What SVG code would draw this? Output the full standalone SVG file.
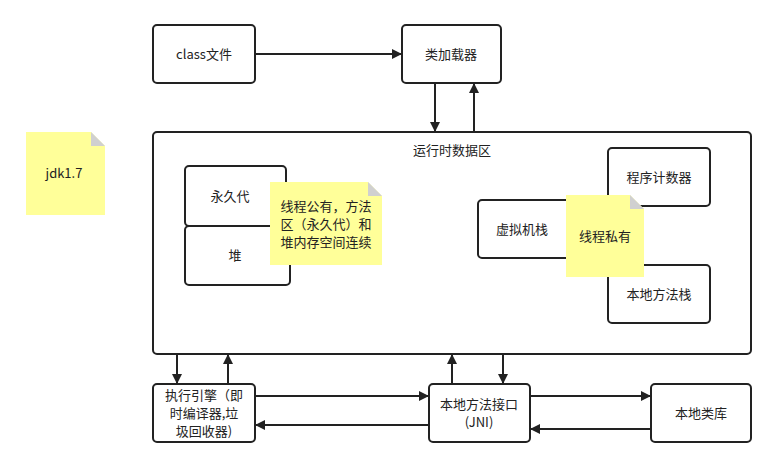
<svg xmlns="http://www.w3.org/2000/svg" width="776" height="468" viewBox="0 0 776 468">
<style>
.b{fill:#fff;stroke:#222;stroke-width:2}
.t{font-family:"Noto Sans CJK SC","Liberation Sans",sans-serif;font-size:13px;fill:#222;text-anchor:middle}
.n{fill:#ffff99;stroke:none}
.f{fill:#d0d0d0}
.c{stroke:#222;stroke-width:2;fill:none;marker-end:url(#a)}
</style>
<defs><marker id="a" markerWidth="10" markerHeight="10" refX="9" refY="5" orient="auto" markerUnits="userSpaceOnUse"><path d="M0,0 L10,5 L0,10 Z" fill="#222"/></marker></defs>
<rect width="776" height="468" fill="#fff"/>
<g id="runtime"><rect class="b" x="153" y="132" width="598" height="222" rx="4"/><text class="t" x="452" y="155">运行时数据区</text></g>
<g id="classfile"><rect class="b" x="153" y="25" width="102" height="58" rx="4"/><text class="t" x="204" y="59">class文件</text></g>
<g id="loader"><rect class="b" x="402" y="25" width="99" height="58" rx="4"/><text class="t" x="451" y="59">类加载器</text></g>
<g id="jdk"><path class="n" d="M26,132 H91 L105,146 V215 H26 Z"/><path class="f" d="M91,132 L105,146 H91 Z"/><text class="t" x="64" y="178">jdk1.7</text></g>
<g id="perm"><rect class="b" x="185" y="166" width="101" height="60" rx="4"/><text class="t" x="230" y="201">永久代</text></g>
<g id="heap"><rect class="b" x="185" y="226" width="105" height="59" rx="4"/><text class="t" x="235" y="260">堆</text></g>
<g id="note1"><path class="n" d="M270,182 H368 L382,196 V265 H270 Z"/><path class="f" d="M368,182 L382,196 H368 Z"/><text class="t" x="326" y="211">线程公有，方法</text><text class="t" x="326" y="229">区（永久代）和</text><text class="t" x="326" y="247">堆内存空间连续</text></g>
<g id="vmstack"><rect class="b" x="478" y="200" width="102" height="58" rx="4"/><text class="t" x="522" y="234">虚拟机栈</text></g>
<g id="pc"><rect class="b" x="608" y="148" width="102" height="58" rx="4"/><text class="t" x="659" y="182">程序计数器</text></g>
<g id="nstack"><rect class="b" x="608" y="265" width="102" height="58" rx="4"/><text class="t" x="659" y="299">本地方法栈</text></g>
<g id="note2"><path class="n" d="M566,195 H630 L644,209 V277 H566 Z"/><path class="f" d="M630,195 L644,209 H630 Z"/><text class="t" x="605" y="241">线程私有</text></g>
<g id="engine"><rect class="b" x="153" y="384" width="102" height="58" rx="4"/><text class="t" x="204" y="400">执行引擎（即</text><text class="t" x="204" y="418">时编译器,垃</text><text class="t" x="204" y="436">圾回收器)</text></g>
<g id="jni"><rect class="b" x="429" y="384" width="101" height="58" rx="4"/><text class="t" x="479" y="409">本地方法接口</text><text class="t" x="479" y="427">(JNI)</text></g>
<g id="lib"><rect class="b" x="651" y="384" width="100" height="58" rx="4"/><text class="t" x="701" y="418">本地类库</text></g>
<g id="connectors">
<path class="c" d="M255,54 H401"/>
<path class="c" d="M435,83 V131"/>
<path class="c" d="M474,132 V84"/>
<path class="c" d="M177,354 V383"/>
<path class="c" d="M228,384 V355"/>
<path class="c" d="M452,384 V355"/>
<path class="c" d="M503,354 V383"/>
<path class="c" d="M255,396 H428"/>
<path class="c" d="M429,425 H256"/>
<path class="c" d="M530,396 H650"/>
<path class="c" d="M651,429 H531"/>
</g>
</svg>
